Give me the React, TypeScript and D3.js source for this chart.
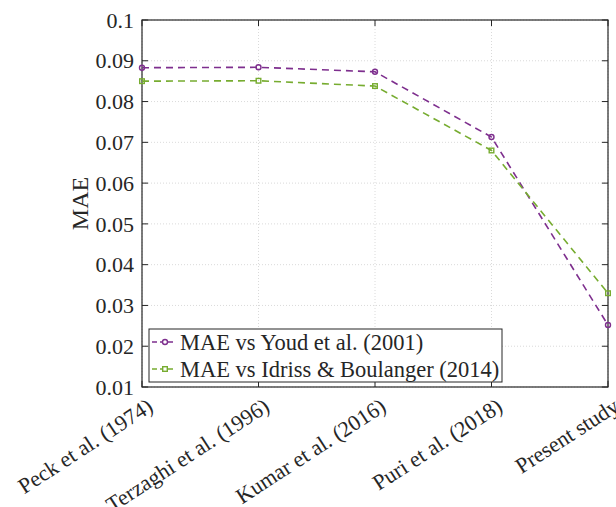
import React, { useEffect, useRef } from 'react';
import * as d3 from 'd3';

const studies = ['Peck et al. (1974)', 'Terzaghi et al. (1996)', 'Kumar et al. (2016)', 'Puri et al. (2018)', 'Present study'];
const maeYoud = [0.0883, 0.0884, 0.0873, 0.0713, 0.0252];
const maeIdriss = [0.0850, 0.0851, 0.0838, 0.0680, 0.0330];
const yTicks = [0.01, 0.02, 0.03, 0.04, 0.05, 0.06, 0.07, 0.08, 0.09, 0.1];
const seriesNames = ['MAE vs Youd et al. (2001)', 'MAE vs Idriss & Boulanger (2014)'];

const App = () => {
    const ref = useRef<SVGSVGElement>(null);

    useEffect(() => {
        const svg = d3.select(ref.current);
        svg.selectAll('*').remove();

        const width = 616;
        const height = 507;
        const m = { left: 142, right: 8, top: 20, bottom: 120 };
        const w = width - m.left - m.right;
        const h = height - m.top - m.bottom;
        const font = '"Liberation Serif", "Times New Roman", serif';
        const axisColor = '#262626';

        const x = d3.scalePoint().domain(studies).range([0, w]);
        const y = d3.scaleLinear().domain([0.01, 0.1]).range([h, 0]);

        const g = svg.append('g').attr('transform', `translate(${m.left},${m.top})`);

        // grid
        g.selectAll('.gx').data(studies).enter().append('line')
            .attr('x1', d => x(d)).attr('x2', d => x(d)).attr('y1', 0).attr('y2', h)
            .attr('stroke', '#d0d0d0').attr('stroke-width', 0.8).attr('stroke-dasharray', '1,2');
        g.selectAll('.gy').data(yTicks).enter().append('line')
            .attr('x1', 0).attr('x2', w).attr('y1', d => y(d)).attr('y2', d => y(d))
            .attr('stroke', '#d0d0d0').attr('stroke-width', 0.8).attr('stroke-dasharray', '1,2');

        // box
        g.append('rect').attr('width', w).attr('height', h)
            .attr('fill', 'none').attr('stroke', axisColor).attr('stroke-width', 1.2);

        // ticks, inside on all sides
        const tl = 6;
        yTicks.forEach(t => {
            g.append('line').attr('x1', 0).attr('x2', tl).attr('y1', y(t)).attr('y2', y(t)).attr('stroke', axisColor);
            g.append('line').attr('x1', w).attr('x2', w - tl).attr('y1', y(t)).attr('y2', y(t)).attr('stroke', axisColor);
            g.append('text').attr('x', -8).attr('y', y(t)).attr('dy', '0.35em')
                .attr('text-anchor', 'end').attr('font-family', font).attr('font-size', 22)
                .attr('fill', axisColor).text(t === 0.1 ? '0.1' : t.toFixed(2));
        });
        studies.forEach(s => {
            g.append('line').attr('x1', x(s)).attr('x2', x(s)).attr('y1', h).attr('y2', h - tl).attr('stroke', axisColor);
            g.append('line').attr('x1', x(s)).attr('x2', x(s)).attr('y1', 0).attr('y2', tl).attr('stroke', axisColor);
            g.append('text')
                .attr('transform', `translate(${x(s) + 4},${h + 10}) rotate(-33)`)
                .attr('text-anchor', 'end').attr('dy', '0.7em')
                .attr('font-family', font).attr('font-size', 22).attr('fill', axisColor)
                .text(s);
        });

        // y label
        g.append('text')
            .attr('transform', `translate(${-54},${h / 2}) rotate(-90)`)
            .attr('text-anchor', 'middle').attr('font-family', font).attr('font-size', 24)
            .attr('fill', axisColor).text('MAE');

        const series = [
            { name: seriesNames[0], values: maeYoud, color: '#7E2F8E', marker: 'circle' },
            { name: seriesNames[1], values: maeIdriss, color: '#77AC30', marker: 'square' },
        ];

        const line = d3.line<number>().x((d, i) => x(studies[i])).y(d => y(d));

        series.forEach(s => {
            g.append('path').datum(s.values).attr('d', line)
                .attr('fill', 'none').attr('stroke', s.color).attr('stroke-width', 1.6)
                .attr('stroke-dasharray', '7,5');
            s.values.forEach((v, i) => {
                if (s.marker === 'circle') {
                    g.append('circle').attr('cx', x(studies[i])).attr('cy', y(v)).attr('r', 2.5)
                        .attr('fill', 'none').attr('stroke', s.color).attr('stroke-width', 1.4);
                } else {
                    g.append('rect').attr('x', x(studies[i]) - 2.3).attr('y', y(v) - 2.3)
                        .attr('width', 4.6).attr('height', 4.6)
                        .attr('fill', 'none').attr('stroke', s.color).attr('stroke-width', 1.4);
                }
            });
        });

        // legend
        const lg = g.append('g').attr('transform', `translate(7,${h - 58})`);
        lg.append('rect').attr('width', 353).attr('height', 53)
            .attr('fill', 'white').attr('stroke', axisColor).attr('stroke-width', 1);
        series.forEach((s, i) => {
            const yy = 13 + i * 27;
            lg.append('line').attr('x1', 3).attr('x2', 24).attr('y1', yy).attr('y2', yy)
                .attr('stroke', s.color).attr('stroke-width', 1.6).attr('stroke-dasharray', '5,3');
            if (s.marker === 'circle') {
                lg.append('circle').attr('cx', 16).attr('cy', yy).attr('r', 2.5)
                    .attr('fill', 'white').attr('stroke', s.color).attr('stroke-width', 1.4);
            } else {
                lg.append('rect').attr('x', 13.7).attr('y', yy - 2.3).attr('width', 4.6).attr('height', 4.6)
                    .attr('fill', 'white').attr('stroke', s.color).attr('stroke-width', 1.4);
            }
            lg.append('text').attr('x', 31).attr('y', yy).attr('dy', '0.35em')
                .attr('font-family', font).attr('font-size', 22.5).attr('fill', axisColor)
                .text(s.name);
        });
    }, []);

    return (
        <svg ref={ref} width={616} height={507}
            style={{ position: 'absolute', left: 0, top: 0, background: 'white' }} />
    );
};

export default App;
